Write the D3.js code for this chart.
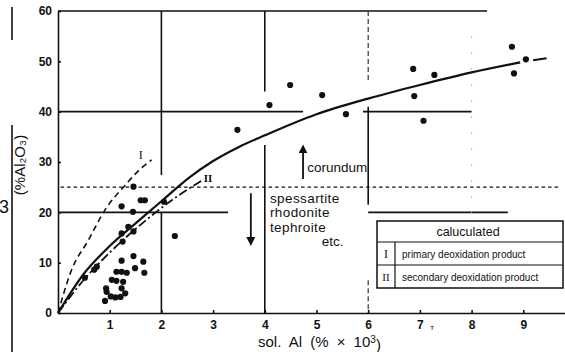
<!DOCTYPE html>
<html>
<head>
<meta charset="utf-8">
<script src="https://cdn.jsdelivr.net/npm/d3@7"></script>
<style>
  body { margin: 0; background: #fff; }
  svg { display: block; }
  text { font-family: "Liberation Sans", Arial, sans-serif; fill: #111; }
  .eixo text { font-family: "Liberation Sans Narrow", "Liberation Sans", Arial, sans-serif; font-weight: bold; font-size: 12px; }
  .eixo line, .eixo path { stroke: #111; stroke-width: 1.6; }
</style>
</head>
<body>
<script>
// dados
const xTicks = [1, 2, 3, 4, 5, 6, 7, 8, 9];
const yTicks = [0, 10, 20, 30, 40, 50, 60];

// pontos medidos: sol. Al (x) e %Al2O3 (y)
const solAl = [0.52, 0.70, 0.75, 1.23, 1.46, 1.60, 1.68, 1.45, 1.36, 1.23, 1.46, 1.25,
               1.23, 1.46, 1.65, 1.49, 1.67, 1.13, 1.23, 1.33, 1.04, 1.13, 1.26,
               0.93, 0.94, 1.23, 1.30, 1.02, 1.11, 1.21, 0.91,
               2.05, 2.26, 3.47, 4.09, 4.49, 5.11, 5.57, 6.87, 6.89, 7.07, 7.28,
               8.78, 8.82, 9.05];
const al2o3 = [7.0, 8.6, 9.2, 21.2, 25.1, 22.4, 22.4, 20.1, 17.1, 15.8, 16.2, 14.2,
               10.4, 11.3, 10.2, 8.9, 8.0, 8.2, 8.2, 8.0, 6.6, 6.4, 6.2,
               4.9, 4.2, 4.9, 3.9, 3.3, 3.1, 3.2, 2.4,
               22.1, 15.3, 36.4, 41.3, 45.3, 43.3, 39.5, 48.5, 43.1, 38.2, 47.3,
               52.9, 47.6, 50.4];

// curvas calculadas
const curvaPrincipal = [[0, 0], [0.5, 7.8], [1.0, 13.3], [1.5, 17.8], [2.0, 22.2], [2.55, 27.0],
                        [3.0, 30.2], [3.5, 33.0], [4.0, 35.3], [5.0, 39.5], [6.0, 42.6],
                        [7.0, 45.3], [8.0, 47.8], [8.94, 49.8]];
const curvaPrincipalFim = [[9.19, 50.2], [9.45, 50.6]];
const curvaI = [[0, 0], [0.26, 8.5], [0.59, 14.5], [0.91, 20.5], [1.3, 25.4], [1.55, 28.2], [1.81, 30.4]];
const curvaII = [[0, 0], [0.5, 6.6], [1.0, 12.0], [1.71, 18.5], [2.2, 22.4], [2.78, 26.3]];

// segmentos de referencia [valor, inicio, fim]
const linhasH = [[40, 0, 4.74], [40, 5.9, 8.0], [20, 0, 3.29], [20, 6.0, 8.7], [60, 0, 8.3]];
const linhasV = [[2, 60, 27.4], [2, 20, 0], [4, 60, 44.0], [4, 33.4, 0], [6, 41.0, 21.5]];
const linhasVtracejadas = [[6, 60, 45.7], [6, 6.5, 0]];
const limiteCorindon = 25;

const largura = 565, altura = 352;
const svg = d3.select("body").append("svg")
              .attr("width", largura)
              .attr("height", altura);

const xEscala = d3.scaleLinear().domain([0, 10]).range([58, 575]);
const yEscala = d3.scaleLinear().domain([0, 60]).range([313, 11]);

svg.append("defs").append("marker")
   .attr("id", "seta")
   .attr("viewBox", "0 0 10 10")
   .attr("refX", 5).attr("refY", 5)
   .attr("markerWidth", 5).attr("markerHeight", 7)
   .attr("orient", "auto-start-reverse")
   .append("path")
   .attr("d", "M0,0 L10,5 L0,10 z")
   .attr("fill", "#111");

// linhas de grade parciais
svg.selectAll(".lh").data(linhasH).enter().append("line")
   .attr("x1", d => xEscala(d[1])).attr("x2", d => xEscala(d[2]))
   .attr("y1", d => yEscala(d[0])).attr("y2", d => yEscala(d[0]))
   .attr("stroke", "#111").attr("stroke-width", 1.6);

svg.selectAll(".lv").data(linhasV).enter().append("line")
   .attr("x1", d => xEscala(d[0])).attr("x2", d => xEscala(d[0]))
   .attr("y1", d => yEscala(d[1])).attr("y2", d => yEscala(d[2]))
   .attr("stroke", "#111").attr("stroke-width", 1.6);

svg.selectAll(".lvt").data(linhasVtracejadas).enter().append("line")
   .attr("x1", d => xEscala(d[0])).attr("x2", d => xEscala(d[0]))
   .attr("y1", d => yEscala(d[1])).attr("y2", d => yEscala(d[2]))
   .attr("stroke", "#333").attr("stroke-width", 1.2)
   .attr("stroke-dasharray", "5,3");

// linha fraca em x = 8
svg.append("line")
   .attr("x1", xEscala(8)).attr("x2", xEscala(8))
   .attr("y1", yEscala(55)).attr("y2", yEscala(18))
   .attr("stroke", "#bbb").attr("stroke-width", 1)
   .attr("stroke-dasharray", "2,14");

// limite pontilhado em 25
svg.append("line")
   .attr("x1", xEscala(0.05)).attr("x2", largura - 4)
   .attr("y1", yEscala(limiteCorindon)).attr("y2", yEscala(limiteCorindon))
   .attr("stroke", "#111").attr("stroke-width", 1.4)
   .attr("stroke-dasharray", "3.5,3");

// eixos
const xEixo = d3.axisBottom(xEscala).tickValues(xTicks)
                .tickSizeInner(-3).tickSizeOuter(0).tickPadding(7);
const yEixo = d3.axisLeft(yEscala).tickValues(yTicks)
                .tickSizeInner(-3).tickSizeOuter(0).tickPadding(6);

svg.append("g").attr("class", "eixo")
   .attr("transform", "translate(0," + yEscala(0) + ")")
   .call(xEixo);
svg.append("g").attr("class", "eixo")
   .attr("transform", "translate(" + xEscala(0) + ",0)")
   .call(yEixo);

// curvas
const linha = d3.line()
                .x(d => xEscala(d[0]))
                .y(d => yEscala(d[1]))
                .curve(d3.curveMonotoneX);

svg.append("path").datum(curvaPrincipal)
   .attr("d", linha).attr("fill", "none")
   .attr("stroke", "#111").attr("stroke-width", 2.2);
svg.append("path").datum(curvaPrincipalFim)
   .attr("d", linha).attr("fill", "none")
   .attr("stroke", "#111").attr("stroke-width", 2);
svg.append("path").datum(curvaI)
   .attr("d", linha).attr("fill", "none")
   .attr("stroke", "#111").attr("stroke-width", 1.6)
   .attr("stroke-dasharray", "6,4");
svg.append("path").datum(curvaII)
   .attr("d", linha).attr("fill", "none")
   .attr("stroke", "#111").attr("stroke-width", 1.8)
   .attr("stroke-dasharray", "9,3,2,3");

// pontos
svg.selectAll("circle").data(solAl).enter().append("circle")
   .attr("cx", d => xEscala(d))
   .attr("cy", (d, i) => yEscala(al2o3[i]))
   .attr("r", 3.1)
   .attr("fill", "#111");

// rotulos das curvas
svg.append("text").attr("x", xEscala(1.6)).attr("y", yEscala(31.4))
   .attr("dy", "0.35em").attr("text-anchor", "middle")
   .style("font-family", "'Liberation Serif', serif").style("font-size", "12px")
   .text("I");
svg.append("text").attr("x", xEscala(2.9)).attr("y", yEscala(26.8))
   .attr("dy", "0.35em").attr("text-anchor", "middle")
   .style("font-family", "'Liberation Serif', serif").style("font-size", "11px")
   .style("font-weight", "bold")
   .text("II");

// setas e textos
svg.append("line")
   .attr("x1", xEscala(4.74)).attr("x2", xEscala(4.74))
   .attr("y1", yEscala(26.6)).attr("y2", yEscala(32.6))
   .attr("stroke", "#111").attr("stroke-width", 1.8)
   .attr("marker-end", "url(#seta)");
svg.append("text").attr("x", xEscala(4.82)).attr("y", yEscala(29.0))
   .attr("dy", "0.35em").style("font-size", "13.5px")
   .text("corundum");

svg.append("line")
   .attr("x1", xEscala(3.73)).attr("x2", xEscala(3.73))
   .attr("y1", yEscala(23.8)).attr("y2", yEscala(14.2))
   .attr("stroke", "#111").attr("stroke-width", 1.8)
   .attr("marker-end", "url(#seta)");

const minerais = ["spessartite", "rhodonite", "tephroite"];
svg.selectAll(".mineral").data(minerais).enter().append("text")
   .attr("x", xEscala(4.1))
   .attr("y", (d, i) => yEscala(22.85 - i * 2.9))
   .attr("dy", "0.35em").style("font-size", "13.5px")
   .style("letter-spacing", "0.4px")
   .text(d => d);
svg.append("text").attr("x", xEscala(5.1)).attr("y", yEscala(14.2))
   .attr("dy", "0.35em").style("font-size", "13.5px")
   .text("etc.");

// legenda
const leg = svg.append("g");
leg.append("rect").attr("x", 377).attr("y", 221).attr("width", 186).attr("height", 67)
   .attr("fill", "#fff").attr("stroke", "#111").attr("stroke-width", 1.5);
leg.append("line").attr("x1", 377).attr("x2", 563).attr("y1", 242).attr("y2", 242)
   .attr("stroke", "#111").attr("stroke-width", 1.2);
leg.append("line").attr("x1", 377).attr("x2", 563).attr("y1", 265).attr("y2", 265)
   .attr("stroke", "#111").attr("stroke-width", 1.2);
leg.append("line").attr("x1", 395).attr("x2", 395).attr("y1", 242).attr("y2", 288)
   .attr("stroke", "#111").attr("stroke-width", 1.2);
leg.append("text").attr("x", 468).attr("y", 232).attr("dy", "0.35em")
   .attr("text-anchor", "middle").style("font-size", "12.5px").text("caluculated");
leg.append("text").attr("x", 386).attr("y", 254).attr("dy", "0.35em")
   .attr("text-anchor", "middle")
   .style("font-family", "'Liberation Serif', serif").style("font-size", "12px").text("I");
leg.append("text").attr("x", 386).attr("y", 277).attr("dy", "0.35em")
   .attr("text-anchor", "middle")
   .style("font-family", "'Liberation Serif', serif").style("font-size", "11px").text("II");
leg.append("text").attr("x", 402).attr("y", 254).attr("dy", "0.35em")
   .style("font-size", "10px").text("primary deoxidation product");
leg.append("text").attr("x", 402).attr("y", 277).attr("dy", "0.35em")
   .style("font-size", "10px").text("secondary deoxidation product");

// titulos dos eixos
const xTitulo = svg.append("text").attr("x", 258).attr("y", 342).attr("dy", "0.35em")
   .style("font-size", "15px").style("word-spacing", "4px");
xTitulo.append("tspan").text("sol. Al  (% × 10");
xTitulo.append("tspan").attr("dy", "-0.45em").style("font-size", "10px").text("3");
xTitulo.append("tspan").attr("dy", "0.45em").text(")");

svg.append("text")
   .attr("transform", "translate(20,165) rotate(-90)")
   .attr("text-anchor", "middle").attr("dy", "0.35em")
   .style("font-size", "15px")
   .text("(%Al₂O₃)");

// marcas na borda esquerda
svg.append("line").attr("x1", 12).attr("x2", 12).attr("y1", 7).attr("y2", 40)
   .attr("stroke", "#111").attr("stroke-width", 1.6);
svg.append("line").attr("x1", 12).attr("x2", 12).attr("y1", 125).attr("y2", 352)
   .attr("stroke", "#111").attr("stroke-width", 1.6);
svg.append("text").attr("x", -1).attr("y", 207).attr("dy", "0.35em")
   .style("font-size", "18px").text("3");
svg.append("text").attr("x", 432).attr("y", 327).attr("dy", "0.35em")
   .attr("text-anchor", "middle").style("font-size", "8px").text("т");
</script>
</body>
</html>
